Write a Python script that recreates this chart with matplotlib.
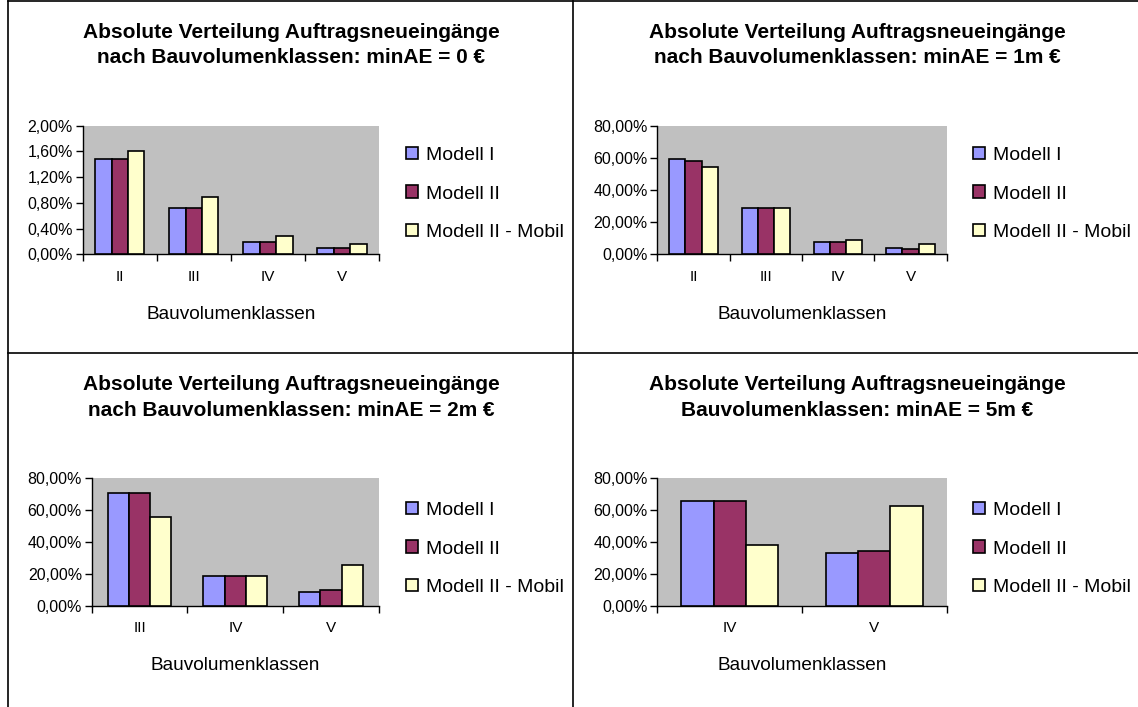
import matplotlib.pyplot as plt
from matplotlib.lines import Line2D
from matplotlib.ticker import FuncFormatter, MultipleLocator
import numpy as np

plt.rcParams['font.family'] = ['Liberation Sans', 'DejaVu Sans']

# Anteile (in %) je Bauvolumenklasse und Modell
serien = ['Modell I', 'Modell II', 'Modell II - Mobil']
farben = ['#9999FF', '#993366', '#FFFFCC']

klassen_0 = ['II', 'III', 'IV', 'V']
modell1_0 = [1.48, 0.725, 0.185, 0.093]
modell2_0 = [1.48, 0.725, 0.185, 0.093]
mobil_0 = [1.61, 0.886, 0.29, 0.16]

klassen_1m = ['II', 'III', 'IV', 'V']
modell1_1m = [59.1, 29.0, 7.5, 3.7]
modell2_1m = [58.0, 29.0, 7.5, 3.5]
mobil_1m = [54.3, 29.0, 8.9, 6.4]

klassen_2m = ['III', 'IV', 'V']
modell1_2m = [70.6, 18.7, 8.7]
modell2_2m = [70.6, 18.7, 10.0]
mobil_2m = [55.5, 18.7, 25.3]

klassen_5m = ['IV', 'V']
modell1_5m = [65.6, 32.8]
modell2_5m = [65.6, 34.1]
mobil_5m = [37.8, 62.3]

titel = [
    'Absolute Verteilung Auftragsneueingänge\nnach Bauvolumenklassen: minAE = 0 €',
    'Absolute Verteilung Auftragsneueingänge\nnach Bauvolumenklassen: minAE = 1m €',
    'Absolute Verteilung Auftragsneueingänge\nnach Bauvolumenklassen: minAE = 2m €',
    'Absolute Verteilung Auftragsneueingänge\nBauvolumenklassen: minAE = 5m €',
]

W, H = 1138, 707
fig = plt.figure(figsize=(W / 100, H / 100), dpi=100)


def px_rect(l, t, r, b):
    return [l / W, 1 - b / H, (r - l) / W, (b - t) / H]


def prozent(v, pos):
    return f'{v:.2f}%'.replace('.', ',')


def diagramm(rect, klassen, werte, ymax, ystep, leg_x, leg_y, title_x, title_y, t):
    ax = fig.add_axes(rect)
    ax.set_facecolor('#C0C0C0')
    x = np.arange(len(klassen))
    w = 0.222
    bars = []
    for i, (vals, col) in enumerate(zip(werte, farben)):
        b = ax.bar(x + (i - 1) * w, vals, w, color=col, edgecolor='black',
                   linewidth=1.2, label=serien[i], zorder=3)
        bars.append(b)
    ax.set_xlim(-0.5, len(klassen) - 0.5)
    ax.set_ylim(0, ymax)
    ax.yaxis.set_major_locator(MultipleLocator(ystep))
    ax.yaxis.set_major_formatter(FuncFormatter(prozent))
    ax.set_xticks(x)
    ax.set_xticklabels(klassen, fontsize=11)
    ax.set_xticks(np.arange(-0.5, len(klassen)), minor=True)
    ax.tick_params(axis='x', which='major', length=0, pad=11)
    ax.tick_params(axis='x', which='minor', length=5, width=1, direction='out')
    ax.tick_params(axis='y', length=5, width=1, direction='out', labelsize=11.5, pad=2)
    for s in ['top', 'right']:
        ax.spines[s].set_visible(False)
    ax.spines['left'].set_linewidth(1)
    ax.spines['bottom'].set_linewidth(1)
    ax.set_xlabel('Bauvolumenklassen', fontsize=13.7, labelpad=16)
    ax.legend(handles=bars, loc='center left',
              bbox_to_anchor=(leg_x / W, 1 - leg_y / H),
              bbox_transform=fig.transFigure, frameon=False, fontsize=14,
              handlelength=0.6, handleheight=0.6, handletextpad=0.45,
              labelspacing=1.1, borderpad=0, borderaxespad=0)
    fig.text(title_x / W, 1 - title_y / H, t, ha='center', va='center',
             fontsize=15, fontweight='bold', linespacing=1.42)
    return ax


diagramm(px_rect(82.7, 125.7, 379, 254.3), klassen_0,
         [modell1_0, modell2_0, mobil_0], 2.0, 0.4, 406, 194, 291, 45, titel[0])
diagramm(px_rect(657.3, 125.7, 946.7, 254.3), klassen_1m,
         [modell1_1m, modell2_1m, mobil_1m], 80, 20, 973, 194, 857, 45, titel[1])
diagramm(px_rect(91.7, 477.7, 379, 606), klassen_2m,
         [modell1_2m, modell2_2m, mobil_2m], 80, 20, 406, 549, 291, 397.5, titel[2])
diagramm(px_rect(657.3, 477.7, 946.7, 606), klassen_5m,
         [modell1_5m, modell2_5m, mobil_5m], 80, 20, 973, 549, 857, 397.5, titel[3])

# Rahmen um die vier Diagramme
rahmen = [((8, 8), (1, H)), ((8, W), (1, 1)), ((573, 573), (1, H)), ((8, W), (353, 353))]
for xs, ys in rahmen:
    fig.add_artist(Line2D([v / W for v in xs], [1 - v / H for v in ys],
                          color='black', linewidth=1.2, transform=fig.transFigure))

fig.savefig('out.png', dpi=100, facecolor='white')
